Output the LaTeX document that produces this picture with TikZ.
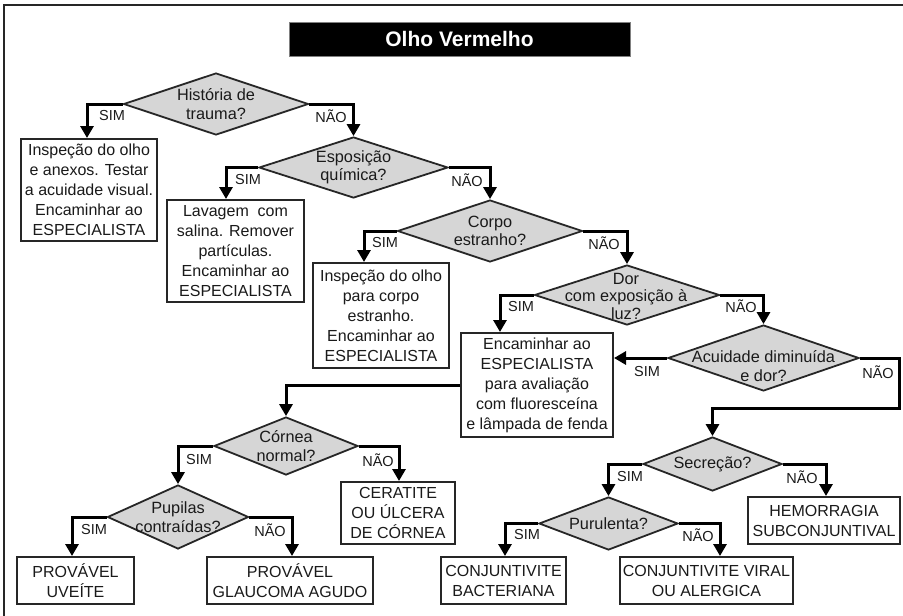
\documentclass[tikz,border=0pt]{standalone}
\usepackage{fontspec}
\setmainfont{Liberation Sans}
\usetikzlibrary{shapes.geometric,arrows.meta}
\definecolor{dgray}{HTML}{262626}
\definecolor{dfill}{HTML}{D6D6D6}
\definecolor{txt}{HTML}{1A1A1A}
\begin{document}
\begin{tikzpicture}[x=1pt,y=-1pt,
  box/.style={draw=dgray, line width=2pt, fill=white, inner sep=0pt, align=center, font=\fontsize{16}{20}\selectfont, text=txt},
  dia/.style={diamond, draw=dgray, line width=1.8pt, fill=dfill, inner sep=0pt},
  dtxt/.style={align=center, font=\fontsize{16.3}{18.5}\selectfont, inner sep=0pt, text=txt},
  lab/.style={font=\fontsize{14.5}{16}\selectfont, inner sep=0pt, text=txt},
  conn/.style={line width=3pt, draw=black, line join=miter, -{Triangle[width=13pt,length=12pt]}},
  frame/.style={draw=dgray, line width=2pt},
  titlebox/.style={fill=black, draw=gray, line width=0.8pt, text=white, minimum width=341, minimum height=34, inner sep=0pt, font=\bfseries\fontsize{21}{24}\selectfont}
]
\useasboundingbox (0,0) rectangle (903,616);
\draw[frame] (4,616) -- (4,5) -- (903,5);

\node[titlebox] (title) at (459.5,39) {Olho Vermelho};

% diamonds
\node[dia, minimum width=185, minimum height=62] (d1) at (216,104) {};
\node[dtxt] (t1) at (d1) {História de\\trauma?};
\node[dia, minimum width=189, minimum height=61] (d2) at (353.5,167.5) {};
\node[dtxt] (t2) at (d2) {Esposição\\química?};
\node[dia, minimum width=185, minimum height=62] (d3) at (490,231) {};
\node[dtxt] (t3) at (d3) {Corpo\\estranho?};
\node[dia, minimum width=185, minimum height=60] (d4) at (627,295) {};
\node[dtxt, font=\fontsize{16.3}{17.5}\selectfont] (t4) at (626,296) {Dor\\com exposição à\\luz?};
\node[dia, minimum width=191, minimum height=66] (d5) at (763.5,358) {};
\node[dtxt] (t5) at (763.5,366) {Acuidade diminuída\\e dor?};
\node[dia, minimum width=144, minimum height=58] (d7) at (286,446) {};
\node[dtxt] (t7) at (d7) {Córnea\\normal?};
\node[dia, minimum width=141, minimum height=64] (d8) at (178,517) {};
\node[dtxt] (t8) at (d8) {Pupilas\\contraídas?};
\node[dia, minimum width=139, minimum height=54] (d6) at (712.5,464) {};
\node[dtxt] (t6) at (d6) {Secreção?};
\node[dia, minimum width=139, minimum height=53] (d9) at (608.5,523.5) {};
\node[dtxt] (t9) at (d9) {Purulenta?};

% boxes
\node[box, minimum width=136, minimum height=102] (b1) at (89,190) {Inspeção do olho\\e anexos. Testar\\a acuidade visual.\\Encaminhar ao\\ESPECIALISTA};
\node[box, minimum width=137, minimum height=102] (b2) at (235.5,251) {Lavagem~ com\\salina. Remover\\partículas.\\Encaminhar ao\\ESPECIALISTA};
\node[box, minimum width=136, minimum height=105] (b3) at (381,315.5) {Inspeção do olho\\para corpo\\estranho.\\Encaminhar ao\\ESPECIALISTA};
\node[box, minimum width=152, minimum height=104] (b4) at (537,385) {Encaminhar ao\\ESPECIALISTA\\para avaliação\\com fluoresceína\\e lâmpada de fenda};
\node[box, minimum width=114, minimum height=62] (bC) at (398,513) {CERATITE\\OU ÚLCERA\\DE CÓRNEA};
\node[box, minimum width=117, minimum height=47] (bU) at (75.5,580.5) {PROVÁVEL\\UVEÍTE};
\node[box, minimum width=166, minimum height=47] (bG) at (290,580.5) {PROVÁVEL\\GLAUCOMA AGUDO};
\node[box, minimum width=152, minimum height=47] (bH) at (824,520.5) {HEMORRAGIA\\SUBCONJUNTIVAL};
\node[box, minimum width=125, minimum height=47] (bB) at (503.5,580.5) {CONJUNTIVITE\\BACTERIANA};
\node[box, minimum width=173, minimum height=47] (bV) at (706.5,580.5) {CONJUNTIVITE VIRAL\\OU ALERGICA};

\coordinate (k1) at (899,408);

% connectors
\draw[conn] (d1.west) -| ([xshift=-2pt]b1.north);
\draw[conn] (d1.east) -| (d2.north);
\draw[conn] (d2.west) -| ([xshift=-9.5pt]b2.north);
\draw[conn] (d2.east) -| (d3.north);
\draw[conn] (d3.west) -| ([xshift=-17pt]b3.north);
\draw[conn] (d3.east) -| (d4.north);
\draw[conn] (d4.west) -| ([xshift=-37pt]b4.north);
\draw[conn] (d4.east) -| (d5.north);
\draw[conn] (d5.west) -- (d5.west -| b4.east);
\draw[conn] (d5.east) -| (k1) -| (d6.north);
\draw[conn] (b4.west) -| (d7.north);
\draw[conn] (d7.west) -| (d8.north);
\draw[conn] (d7.east) -| ([xshift=1pt]bC.north);
\draw[conn] (d8.west) -| ([xshift=-3.5pt]bU.north);
\draw[conn] (d8.east) -| ([xshift=2pt]bG.north);
\draw[conn] (d6.west) -| (d9.north);
\draw[conn] (d6.east) -| ([xshift=2pt]bH.north);
\draw[conn] (d9.west) -| ([xshift=1.5pt]bB.north);
\draw[conn] (d9.east) -| ([xshift=13.5pt]bV.north);

% labels
\node[lab] (l1s) at (112,116) {SIM};
\node[lab] (l1n) at (331,116) {NÃO};
\node[lab] (l2s) at (248,180) {SIM};
\node[lab] (l2n) at (467,180) {NÃO};
\node[lab] (l3s) at (385,243) {SIM};
\node[lab] (l3n) at (604,243) {NÃO};
\node[lab] (l4s) at (521,307) {SIM};
\node[lab] (l4n) at (741,306) {NÃO};
\node[lab] (l5s) at (647,372) {SIM};
\node[lab] (l5n) at (878,372) {NÃO};
\node[lab] (l7s) at (199,460) {SIM};
\node[lab] (l7n) at (378,460) {NÃO};
\node[lab] (l8s) at (94,530) {SIM};
\node[lab] (l8n) at (270,530) {NÃO};
\node[lab] (l6s) at (630,477) {SIM};
\node[lab] (l6n) at (802,477) {NÃO};
\node[lab] (l9s) at (527,535) {SIM};
\node[lab] (l9n) at (698,535) {NÃO};
\end{tikzpicture}
\end{document}
